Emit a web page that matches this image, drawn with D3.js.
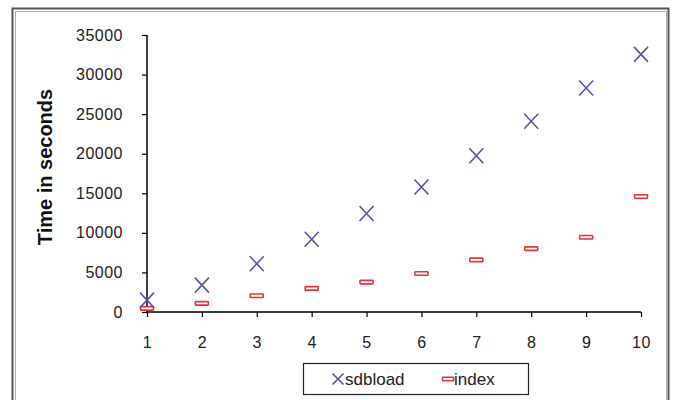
<!DOCTYPE html>
<html><head><meta charset="utf-8">
<script src="https://cdn.jsdelivr.net/npm/d3@7"></script>
<style>body{margin:0;background:#fff;}svg{display:block;font-family:"Liberation Sans",Arial,sans-serif;}</style>
</head><body>
<script>
const runs = [1,2,3,4,5,6,7,8,9,10];
const sdbload = [1500,3400,6100,9200,12450,15800,19750,24100,28300,32550];
const index = [460,1090,2060,2980,3780,4870,6590,8010,9440,14600];
const yTicks = [0,5000,10000,15000,20000,25000,30000,35000];
const seriesNames = ["sdbload","index"];

const W=675,H=400;
const svg=d3.select("body").append("svg").attr("width",W).attr("height",H);
svg.append("rect").attr("width",W).attr("height",H).attr("fill","#fff");
// frame
svg.append("rect").attr("x",12.5).attr("y",8.5).attr("width",656).attr("height",400).attr("fill","none").attr("stroke","#555").attr("stroke-width",2);
svg.append("rect").attr("x",15.5).attr("y",11.5).attr("width",651).attr("height",400).attr("fill","none").attr("stroke","#aaa").attr("stroke-width",1);

const x=d3.scaleLinear().domain([1,10]).range([147,641]);
const y=d3.scaleLinear().domain([0,35000]).range([312,35]);

const gx=svg.append("g").attr("transform","translate(0,312)")
  .call(d3.axisBottom(x).tickValues(runs).tickFormat(d3.format("d")).tickSize(5).tickPadding(20));
const gy=svg.append("g").attr("transform","translate(147,0)")
  .call(d3.axisLeft(y).tickValues(yTicks).tickFormat(d3.format("d")).tickSize(5).tickPadding(19));
[gx,gy].forEach(g=>{
  g.select(".domain").attr("stroke","#000").attr("stroke-width",1.5);
  g.selectAll(".tick line").attr("stroke","#000").attr("stroke-width",1.2);
  g.selectAll("text").attr("font-size",16).attr("fill","#222").attr("letter-spacing","0.5px").attr("font-family","'Liberation Sans',Arial,sans-serif");
});
gy.select(".domain").attr("d","M0,35V312");
gx.select(".domain").attr("d","M147,0H641");

svg.append("text").attr("transform","translate(52,167) rotate(-90)")
  .attr("text-anchor","middle").attr("font-size",20).attr("font-weight","bold").attr("fill","#111")
  .text("Time in seconds");

const blue="#5b52b0", red="#e8343a";
function cross(g,cx,cy,sx,sy){
  g.append("path").attr("d",`M${cx-sx},${cy-sy}L${cx+sx},${cy+sy}M${cx-sx},${cy+sy}L${cx+sx},${cy-sy}`)
   .attr("stroke",blue).attr("stroke-width",1.6).attr("fill","none");
}
function dash(g,cx,cy,w,h){
  g.append("rect").attr("x",cx-w/2).attr("y",cy-h/2).attr("width",w).attr("height",h)
   .attr("fill","#fff").attr("stroke",red).attr("stroke-width",1.6).attr("rx",0.5);
}
const gi=svg.append("g");
runs.forEach((r,i)=>dash(gi,x(r),y(index[i]),13,3.5));
const gs=svg.append("g");
runs.forEach((r,i)=>cross(gs,x(r),y(sdbload[i]),7,7.5));

// legend
const lg=svg.append("g");
lg.append("rect").attr("x",303.5).attr("y",363.5).attr("width",225).attr("height",31).attr("fill","#fff").attr("stroke","#222").attr("stroke-width",1.2);
cross(lg,338,379,5.5,5.5);
lg.append("text").attr("x",345).attr("y",385).attr("font-size",17).attr("fill","#222").text(seriesNames[0]);
dash(lg,448,379,11,3.5);
lg.append("text").attr("x",454).attr("y",385).attr("font-size",17).attr("fill","#222").text(seriesNames[1]);
</script>
</body></html>
